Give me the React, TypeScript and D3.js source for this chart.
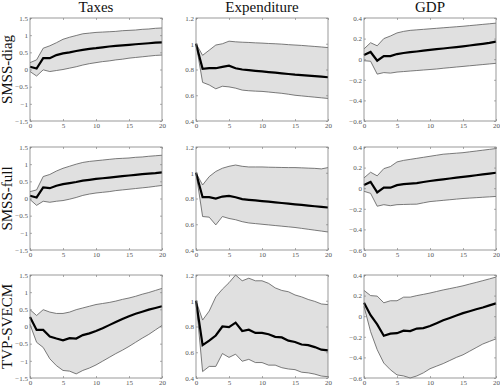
import React, { useEffect, useRef } from 'react';
import * as d3 from 'd3';

const horizons = d3.range(0, 21);
const columnTitles = ['Taxes', 'Expenditure', 'GDP'];
const rowLabels = ['SMSS-diag', 'SMSS-full', 'TVP-SVECM'];

const yDomains: [number, number][] = [[-1.5, 1.5], [0.4, 1.2], [-0.6, 0.4]];
const yTicks = [
  [-1.5, -1, -0.5, 0, 0.5, 1, 1.5],
  [0.4, 0.6, 0.8, 1, 1.2],
  [-0.6, -0.4, -0.2, 0, 0.2, 0.4],
];
const xTicks = [0, 5, 10, 15, 20];

// SMSS-diag
const taxesDiagMed = [0.08, 0.03, 0.33, 0.33, 0.42, 0.47, 0.5, 0.54, 0.57, 0.6, 0.62, 0.645, 0.67, 0.69, 0.705, 0.72, 0.735, 0.75, 0.765, 0.78, 0.79];
const taxesDiagUp = [0.2, 0.28, 0.62, 0.69, 0.78, 0.88, 0.94, 0.99, 1.04, 1.06, 1.08, 1.09, 1.1, 1.11, 1.13, 1.14, 1.15, 1.17, 1.18, 1.2, 1.21];
const taxesDiagLo = [-0.06, -0.19, -0.01, -0.06, -0.03, 0.0, 0.04, 0.08, 0.13, 0.17, 0.2, 0.23, 0.25, 0.28, 0.3, 0.33, 0.35, 0.37, 0.39, 0.41, 0.42];
const expDiagMed = [1.0, 0.806, 0.81, 0.81, 0.82, 0.83, 0.81, 0.8, 0.795, 0.79, 0.785, 0.78, 0.775, 0.77, 0.765, 0.76, 0.757, 0.753, 0.748, 0.744, 0.74];
const expDiagUp = [1.0, 0.91, 0.95, 0.99, 1.0, 1.02, 1.015, 1.012, 1.01, 1.007, 1.005, 1.002, 1.0, 0.997, 0.993, 0.99, 0.987, 0.983, 0.979, 0.975, 0.97];
const expDiagLo = [1.0, 0.7, 0.68, 0.65, 0.67, 0.665, 0.655, 0.64, 0.635, 0.632, 0.63, 0.625, 0.62, 0.615, 0.608, 0.6, 0.595, 0.59, 0.585, 0.58, 0.575];
const gdpDiagMed = [0.04, 0.07, -0.015, 0.03, 0.03, 0.05, 0.06, 0.068, 0.075, 0.083, 0.09, 0.097, 0.104, 0.111, 0.118, 0.125, 0.133, 0.141, 0.149, 0.158, 0.17];
const gdpDiagUp = [0.1, 0.16, 0.13, 0.2, 0.225, 0.255, 0.27, 0.28, 0.285, 0.29, 0.295, 0.3, 0.305, 0.31, 0.315, 0.32, 0.326, 0.332, 0.338, 0.344, 0.35];
const gdpDiagLo = [-0.015, -0.02, -0.145, -0.13, -0.135, -0.125, -0.12, -0.115, -0.11, -0.105, -0.1, -0.095, -0.088, -0.082, -0.076, -0.07, -0.064, -0.058, -0.052, -0.046, -0.04];

// SMSS-full
const taxesFullMed = [0.08, 0.03, 0.32, 0.3, 0.37, 0.42, 0.45, 0.48, 0.52, 0.545, 0.57, 0.59, 0.61, 0.63, 0.65, 0.67, 0.69, 0.71, 0.725, 0.74, 0.76];
const taxesFullUp = [0.2, 0.25, 0.64, 0.7, 0.8, 0.88, 0.94, 1.0, 1.05, 1.08, 1.1, 1.12, 1.14, 1.16, 1.17, 1.18, 1.2, 1.21, 1.23, 1.245, 1.26];
const taxesFullLo = [-0.03, -0.2, -0.08, -0.11, -0.08, -0.06, -0.02, 0.03, 0.09, 0.13, 0.16, 0.18, 0.2, 0.23, 0.25, 0.27, 0.29, 0.31, 0.33, 0.355, 0.38];
const expFullMed = [1.0, 0.81, 0.81, 0.8, 0.815, 0.82, 0.81, 0.795, 0.79, 0.785, 0.78, 0.775, 0.77, 0.765, 0.76, 0.755, 0.75, 0.745, 0.74, 0.735, 0.73];
const expFullUp = [1.0, 0.905, 0.97, 1.01, 1.035, 1.05, 1.06, 1.05, 1.045, 1.045, 1.045, 1.043, 1.042, 1.041, 1.04, 1.04, 1.038, 1.036, 1.034, 1.03, 1.04];
const expFullLo = [1.0, 0.66, 0.655, 0.595, 0.66, 0.645, 0.635, 0.62, 0.61, 0.605, 0.6, 0.595, 0.59, 0.585, 0.58, 0.575, 0.568, 0.561, 0.554, 0.547, 0.54];
const gdpFullMed = [0.03, 0.06, -0.04, 0.005, 0.005, 0.03, 0.04, 0.045, 0.05, 0.06, 0.07, 0.078, 0.086, 0.094, 0.102, 0.11, 0.118, 0.126, 0.134, 0.142, 0.15];
const gdpFullUp = [0.1, 0.155, 0.12, 0.19, 0.21, 0.255, 0.27, 0.28, 0.29, 0.3, 0.31, 0.32, 0.33, 0.335, 0.34, 0.345, 0.353, 0.361, 0.369, 0.377, 0.385];
const gdpFullLo = [-0.03, -0.05, -0.175, -0.16, -0.17, -0.16, -0.158, -0.156, -0.155, -0.142, -0.13, -0.124, -0.118, -0.112, -0.106, -0.1, -0.096, -0.092, -0.088, -0.084, -0.08];

// TVP-SVECM
const taxesTvpMed = [0.28, -0.1, -0.1, -0.29, -0.35, -0.4, -0.34, -0.35, -0.25, -0.2, -0.13, -0.05, 0.04, 0.13, 0.22, 0.3, 0.37, 0.43, 0.49, 0.54, 0.59];
const taxesTvpUp = [0.49, 0.32, 0.49, 0.42, 0.38, 0.38, 0.42, 0.49, 0.54, 0.59, 0.64, 0.67, 0.7, 0.74, 0.79, 0.83, 0.88, 0.94, 0.99, 1.05, 1.11];
const taxesTvpLo = [0.06, -0.46, -0.61, -0.94, -1.14, -1.28, -1.3, -1.38, -1.28, -1.21, -1.12, -1.01, -0.9, -0.79, -0.69, -0.58, -0.46, -0.34, -0.23, -0.1, 0.03];
const expTvpMed = [1.0, 0.655, 0.69, 0.73, 0.8, 0.795, 0.83, 0.765, 0.775, 0.75, 0.75, 0.74, 0.72, 0.715, 0.69, 0.68, 0.66, 0.655, 0.64, 0.62, 0.615];
const expTvpUp = [1.0, 0.85, 0.92, 1.03, 1.09, 1.14, 1.2, 1.155, 1.175, 1.155, 1.155, 1.135, 1.1, 1.08, 1.07, 1.045, 1.03, 1.01, 0.995, 0.975, 0.97];
const expTvpLo = [1.0, 0.45, 0.49, 0.49, 0.59, 0.56, 0.585, 0.53, 0.545, 0.52, 0.52, 0.5, 0.5, 0.48, 0.47, 0.465, 0.445, 0.44, 0.43, 0.415, 0.41];
const gdpTvpMed = [0.13, 0.01, -0.08, -0.19, -0.17, -0.165, -0.14, -0.145, -0.12, -0.115, -0.095, -0.068, -0.04, -0.017, 0.007, 0.03, 0.048, 0.067, 0.085, 0.105, 0.125];
const gdpTvpUp = [0.25, 0.2, 0.195, 0.13, 0.15, 0.15, 0.185, 0.185, 0.2, 0.212, 0.225, 0.24, 0.255, 0.268, 0.281, 0.295, 0.312, 0.328, 0.345, 0.362, 0.38];
const gdpTvpLo = [0.095, -0.15, -0.325, -0.455, -0.52, -0.57, -0.58, -0.6, -0.58, -0.55, -0.51, -0.485, -0.46, -0.43, -0.4, -0.375, -0.34, -0.305, -0.27, -0.245, -0.22];

const panels = [
  [
    { med: taxesDiagMed, up: taxesDiagUp, lo: taxesDiagLo },
    { med: expDiagMed, up: expDiagUp, lo: expDiagLo },
    { med: gdpDiagMed, up: gdpDiagUp, lo: gdpDiagLo },
  ],
  [
    { med: taxesFullMed, up: taxesFullUp, lo: taxesFullLo },
    { med: expFullMed, up: expFullUp, lo: expFullLo },
    { med: gdpFullMed, up: gdpFullUp, lo: gdpFullLo },
  ],
  [
    { med: taxesTvpMed, up: taxesTvpUp, lo: taxesTvpLo },
    { med: expTvpMed, up: expTvpUp, lo: expTvpLo },
    { med: gdpTvpMed, up: gdpTvpUp, lo: gdpTvpLo },
  ],
];

const W = 500;
const H = 387;
const colLeft = [30, 196, 364];
const rowTop = [18, 147, 275];
const pw = 132;
const ph = 103;
const serif = '"Liberation Serif", "DejaVu Serif", serif';

export default function App() {
  const svgRef = useRef<SVGSVGElement>(null);

  useEffect(() => {
    if (!svgRef.current) return;
    const svg = d3.select(svgRef.current);
    svg.selectAll('*').remove();

    svg.append('rect').attr('width', W).attr('height', H).attr('fill', '#fff');

    const x = d3.scaleLinear().domain([0, 20]).range([0, pw]);

    // column titles
    columnTitles.forEach((t, c) => {
      svg.append('text')
        .attr('x', colLeft[c] + pw / 2)
        .attr('y', 12)
        .attr('text-anchor', 'middle')
        .style('font-family', serif)
        .style('font-size', '15px')
        .attr('fill', '#111')
        .text(t);
    });

    // row labels
    rowLabels.forEach((t, r) => {
      svg.append('text')
        .attr('transform', `translate(12,${rowTop[r] + ph / 2}) rotate(-90)`)
        .attr('text-anchor', 'middle')
        .style('font-family', serif)
        .style('font-size', '15px')
        .attr('fill', '#111')
        .text(t);
    });

    panels.forEach((row, r) => {
      row.forEach((p, c) => {
        const y = d3.scaleLinear().domain(yDomains[c]).range([ph, 0]);
        const g = svg.append('g')
          .attr('transform', `translate(${colLeft[c]},${rowTop[r]})`);

        const area = d3.area<number>()
          .x((_, i) => x(horizons[i]))
          .y0((_, i) => y(p.lo[i]))
          .y1(d => y(d));
        const line = d3.line<number>()
          .x((_, i) => x(horizons[i]))
          .y(d => y(d));

        g.append('path')
          .datum(p.up)
          .attr('d', area)
          .attr('fill', '#e0e0e0');

        [p.up, p.lo].forEach(s => {
          g.append('path')
            .datum(s)
            .attr('d', line)
            .attr('fill', 'none')
            .attr('stroke', '#5a5a5a')
            .attr('stroke-width', 0.8);
        });

        g.append('path')
          .datum(p.med)
          .attr('d', line)
          .attr('fill', 'none')
          .attr('stroke', '#000')
          .attr('stroke-width', 2.2);

        // axes, MATLAB style with inward ticks on all sides
        const styleAxis = (sel: d3.Selection<SVGGElement, unknown, null, undefined>) => {
          sel.select('.domain').remove();
          sel.selectAll('.tick line').attr('stroke', '#777').attr('stroke-width', 0.6);
          sel.selectAll('text')
            .style('font-family', serif)
            .style('font-size', '7px')
            .attr('fill', '#555');
        };

        g.append('g')
          .attr('transform', `translate(0,${ph})`)
          .call(d3.axisBottom(x).tickValues(xTicks).tickSizeInner(-2).tickSizeOuter(0).tickPadding(2))
          .call(styleAxis);
        g.append('g')
          .call(d3.axisTop(x).tickValues(xTicks).tickSizeInner(-2).tickSizeOuter(0).tickFormat(() => ''))
          .call(styleAxis);
        g.append('g')
          .call(d3.axisLeft(y).tickValues(yTicks[c]).tickSizeInner(-2).tickSizeOuter(0).tickPadding(2).tickFormat(d3.format('')))
          .call(styleAxis);
        g.append('g')
          .attr('transform', `translate(${pw},0)`)
          .call(d3.axisRight(y).tickValues(yTicks[c]).tickSizeInner(-2).tickSizeOuter(0).tickFormat(() => ''))
          .call(styleAxis);

        g.append('rect')
          .attr('width', pw)
          .attr('height', ph)
          .attr('fill', 'none')
          .attr('stroke', '#808080')
          .attr('stroke-width', 0.8);
      });
    });
  }, []);

  return (
    <svg
      ref={svgRef}
      width={W}
      height={H}
      style={{ position: 'absolute', left: 0, top: 0, display: 'block' }}
    />
  );
}
